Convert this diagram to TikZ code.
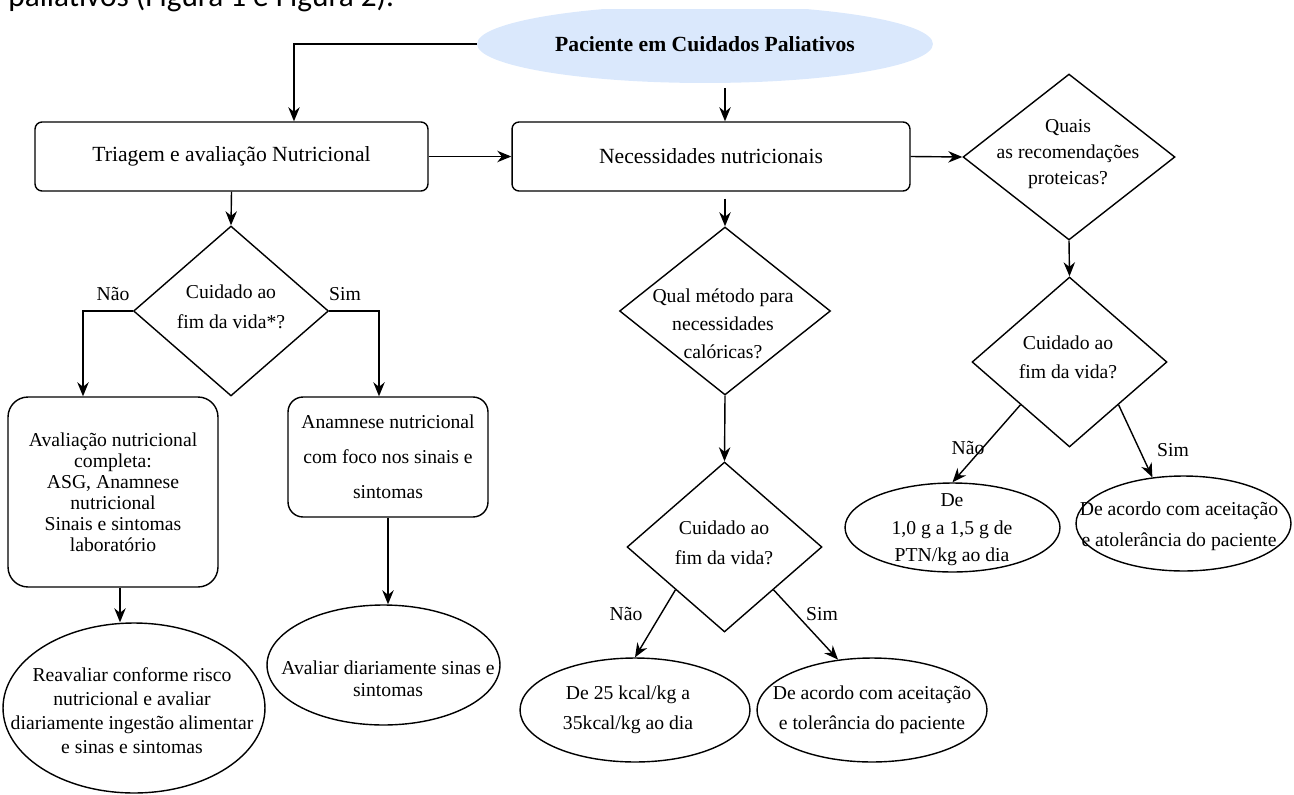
\documentclass[tikz,border=0pt]{standalone}
\usepackage{fontspec}
\setmainfont{Liberation Serif}
\newfontfamily\introfont{Carlito}
\usetikzlibrary{shapes.geometric, arrows.meta, calc}
\definecolor{paleblue}{RGB}{218,232,252}

\begin{document}
\begin{tikzpicture}[
      x=0.02cm, y=-0.02cm,
      box/.style={rectangle, draw, line width=0.8pt, rounded corners=0.14cm,
                  minimum height=1.38cm, inner sep=2pt, align=center},
      dec/.style={diamond, draw, line width=0.8pt, inner sep=0pt,
                  minimum width=3.9cm, minimum height=3.4cm},
      oval/.style={ellipse, draw, line width=0.8pt, inner sep=0pt},
      txt/.style={align=center, inner sep=0pt,
                  font=\rmfamily\fontsize{11.2pt}{#1pt}\selectfont},
      txt/.default=16,
      big/.style={font=\rmfamily\fontsize{12.3pt}{15pt}\selectfont},
      arr/.style={-{Stealth[length=8pt, width=6.5pt]}, line width=0.8pt}
    ]
    \useasboundingbox (0,0) rectangle (1294,794);
    \clip (0,0) rectangle (1294,794);

    \node[anchor=base west, inner sep=0pt,
          font=\introfont\fontsize{17.8pt}{20pt}\selectfont] (intro) at (8,7)
          {paliativos (Figura 1 e Figura 2).};

    \begin{scope}
      \clip (0,10) rectangle (1294,794);
      \node[ellipse, fill=paleblue, minimum width=9.12cm, minimum height=1.56cm,
            font=\rmfamily\fontsize{12.3pt}{15pt}\selectfont\bfseries] (pac) at (705,44)
            {Paciente em Cuidados Paliativos};
    \end{scope}

    \node[box, big, minimum width=7.86cm] (tri) at (231.5,156.5) {Triagem e avaliação Nutricional};
    \node[box, big, minimum width=7.96cm] (nec) at (711,156.5) {Necessidades nutricionais};
    \node[box, txt=12, minimum width=4.2cm, minimum height=3.8cm, rounded corners=0.4cm] (avl) at (113,492)
          {Avaliação nutricional\\completa:\\ASG, Anamnese\\nutricional\\Sinais e sintomas\\laboratório};
    \node[box, txt=19.8, minimum width=4cm, minimum height=2.4cm, rounded corners=0.3cm] (ana) at (388,457)
          {Anamnese nutricional\\com foco nos sinais e\\sintomas};

    \node[dec] (fim1) at (231,311) {};
    \node[dec, minimum width=4.22cm, minimum height=3.36cm] (cal) at (725,311) {};
    \node[dec, minimum width=4.24cm, minimum height=3.32cm] (qua) at (1069,157) {};
    \node[dec] (fim3) at (1069.5,362) {};
    \node[dec] (fim2) at (724.5,547) {};

    \node[txt=17] (fim1t) at (231,307) {Cuidado ao\\fim da vida*?};
    \node[txt] (calt) at (723,324) {Qual método para\\necessidades\\calóricas?};
    \node[txt=14.7] (quat) at (1068,154) {Quais\\as recomendações\\proteicas?};
    \node[txt=16.5] (fim3t) at (1068,357) {Cuidado ao\\fim da vida?};
    \node[txt=17] (fim2t) at (724,543) {Cuidado ao\\fim da vida?};

    \node[oval, minimum width=5.24cm, minimum height=3.4cm] (rea) at (134,708) {};
    \node[oval, minimum width=4.66cm, minimum height=2.4cm] (avd) at (383.5,665) {};
    \node[oval, minimum width=4.6cm, minimum height=2.08cm] (k25) at (635,710) {};
    \node[oval, minimum width=4.6cm, minimum height=2.08cm] (tol) at (872,710) {};
    \node[oval, minimum width=4.3cm, minimum height=1.78cm] (ptn) at (952.5,527.5) {};
    \node[oval, minimum width=4.3cm, minimum height=1.9cm] (acc) at (1183.5,523.5) {};

    \node[txt=13.6] (reat) at (132,710.5)
          {Reavaliar conforme risco\\nutricional e avaliar\\diariamente ingestão alimentar\\e sinas e sintomas};
    \node[txt=12.5] (avdt) at (388,679) {Avaliar diariamente sinas e\\sintomas};
    \node[txt=17] (k25t) at (628,710) {De 25 kcal/kg a\\35kcal/kg ao dia};
    \node[txt=17] (tolt) at (872,710) {De acordo com aceitação\\e tolerância do paciente};
    \node[txt=15.6] (ptnt) at (952,530) {De\\1,0 g a 1,5 g de\\PTN/kg ao dia};
    \node[txt=17.6] (acct) at (1179,526.5) {De acordo com aceitação\\e atolerância do paciente};

    \node[txt] (n1) at (113,294) {Não};
    \node[txt] (s1) at (345,294) {Sim};
    \node[txt] (n2) at (626,614) {Não};
    \node[txt] (s2) at (822,614) {Sim};
    \node[txt] (n3) at (968,448) {Não};
    \node[txt] (s3) at (1173,450) {Sim};

    \coordinate (avlout) at ([xshift=0.14cm]avl.south);

    \draw[arr] (pac.west) -| ([xshift=1.25cm]tri.north);
    \draw[arr] ($(pac.south -| cal.north)+(0,5)$) -- (cal.north |- nec.north);
    \draw[arr] (tri.east) -- (nec.west);
    \draw[arr] (nec.east) -- (qua.west);
    \draw[arr] (tri.south) -- (fim1.north);
    \draw[arr] ($(cal.north |- nec.south)+(0,7)$) -- (cal.north);
    \draw[arr] (qua.south) -- (fim3.north);
    \draw[arr] (fim1.west) -| ([xshift=-0.6cm]avl.north);
    \draw[arr] (fim1.east) -| ([xshift=-0.18cm]ana.north);
    \draw[arr] (avlout) -- (avlout |- rea.north);
    \draw[arr] (ana.south) -- (ana.south |- avd.north);
    \draw[arr] (cal.south) -- (fim2.north);
    \draw[arr] (fim2.south west) -- (k25.north);
    \draw[arr] (fim2.south east) -- (tol.124);
    \draw[arr] (fim3.south west) -- (ptn.north);
    \draw[arr] (fim3.south east) -- (acc.124);
  \end{tikzpicture}
\end{document}
